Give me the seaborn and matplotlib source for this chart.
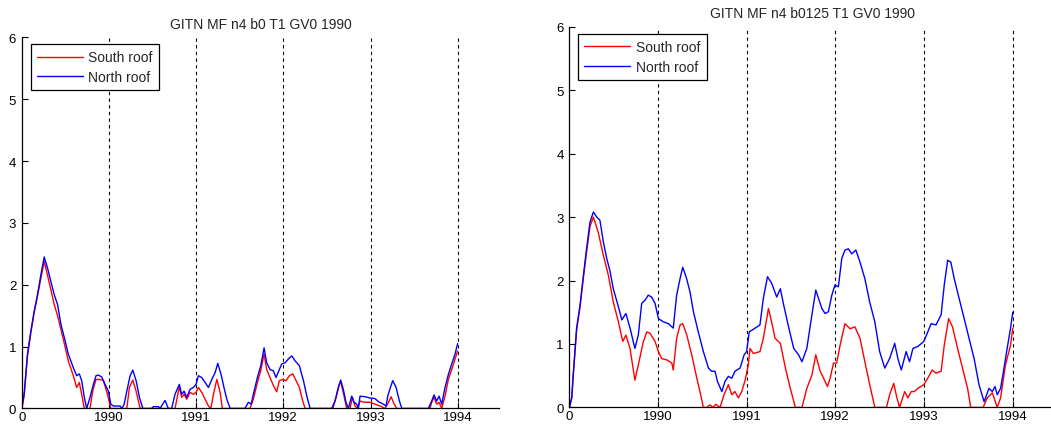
import numpy as np
import pandas as pd
import matplotlib
matplotlib.use('Agg')
import matplotlib.pyplot as plt
import seaborn as sns

# time axis is days since start of 1989, limits 0..2000
year_ticks = [0, 365, 730, 1095, 1461, 1826]
year_labels = ['0', '1990', '1991', '1992', '1993', '1994']

# left panel: b0
left_north_days = [0, 10, 24, 38, 52, 66, 80, 94, 108, 122, 136, 150, 164, 178, 195, 216, 230, 241,
                   251, 262, 272, 286, 300, 311, 321, 335, 349, 363, 373, 384, 412, 419, 429, 440,
                   454, 465, 479, 493, 507, 544, 551, 572, 579, 600, 614, 628, 642, 660, 670, 680,
                   691, 705, 719, 730, 740, 754, 768, 782, 796, 810, 821, 835, 847, 859, 873, 935,
                   949, 961, 970, 987, 1001, 1015, 1026, 1040, 1054, 1065, 1079, 1089, 1103, 1117,
                   1131, 1145, 1163, 1180, 1194, 1208, 1298, 1312, 1326, 1336, 1347, 1358, 1368,
                   1382, 1392, 1403, 1410, 1417, 1438, 1459, 1480, 1494, 1515, 1526, 1533, 1545,
                   1554, 1568, 1582, 1592, 1703, 1717, 1727, 1738, 1748, 1759, 1773, 1787, 1801,
                   1815, 1826]
left_north = [0, 0.24, 0.88, 1.25, 1.57, 1.84, 2.16, 2.45, 2.27, 2.05, 1.84, 1.68, 1.36, 1.15, 0.88,
              0.66, 0.53, 0.56, 0.45, 0.18, 0, 0.18, 0.39, 0.53, 0.54, 0.51, 0.39, 0.28, 0.07, 0.04,
              0.04, 0, 0.07, 0.28, 0.53, 0.62, 0.45, 0.18, 0, 0, 0.03, 0.03, 0, 0.13, 0, 0, 0.23,
              0.39, 0.23, 0.28, 0.18, 0.31, 0.34, 0.39, 0.53, 0.5, 0.42, 0.34, 0.47, 0.58, 0.73,
              0.55, 0.34, 0.15, 0, 0, 0.1, 0.07, 0.23, 0.5, 0.69, 0.98, 0.74, 0.63, 0.61, 0.5, 0.63,
              0.72, 0.74, 0.8, 0.85, 0.77, 0.69, 0.45, 0.2, 0, 0, 0.12, 0.34, 0.46, 0.31, 0.1, 0,
              0.2, 0.1, 0.07, 0, 0.2, 0.19, 0.17, 0.16, 0.11, 0.07, 0.04, 0.2, 0.35, 0.45, 0.34,
              0.12, 0, 0, 0.12, 0.22, 0.12, 0.2, 0.07, 0.34, 0.55, 0.72, 0.88, 1.05]

left_south_days = [0, 10, 24, 38, 52, 66, 80, 94, 108, 122, 136, 150, 164, 174, 195, 216, 230, 241,
                   251, 262, 286, 297, 311, 328, 342, 359, 373, 440, 451, 465, 479, 496, 642, 660,
                   670, 680, 691, 705, 719, 730, 740, 754, 768, 782, 792, 803, 817, 831, 840, 956,
                   970, 987, 1001, 1015, 1026, 1040, 1054, 1068, 1079, 1093, 1107, 1121, 1135, 1149,
                   1163, 1177, 1187, 1303, 1317, 1330, 1337, 1350, 1361, 1375, 1385, 1396, 1406,
                   1417, 1438, 1459, 1480, 1501, 1522, 1536, 1547, 1560, 1571, 1710, 1717, 1727,
                   1738, 1748, 1759, 1773, 1787, 1801, 1815, 1826]
left_south = [0, 0.2, 0.85, 1.22, 1.55, 1.82, 2.1, 2.38, 2.15, 1.92, 1.68, 1.5, 1.28, 1.12, 0.77,
              0.53, 0.34, 0.42, 0.23, 0, 0, 0.28, 0.47, 0.47, 0.45, 0.23, 0, 0, 0.34, 0.46, 0.28, 0,
              0, 0.35, 0.18, 0.23, 0.15, 0.26, 0.23, 0.26, 0.34, 0.26, 0.15, 0.04, 0, 0.23, 0.47,
              0.26, 0, 0, 0.15, 0.42, 0.61, 0.88, 0.63, 0.5, 0.37, 0.27, 0.45, 0.47, 0.45, 0.53,
              0.56, 0.45, 0.34, 0.12, 0, 0, 0.18, 0.39, 0.42, 0.2, 0, 0, 0.18, 0.04, 0, 0.12, 0.1,
              0.1, 0.07, 0.04, 0, 0.1, 0.19, 0.07, 0, 0, 0.1, 0.18, 0.07, 0.1, 0, 0.2, 0.47, 0.63,
              0.8, 0.93]

# right panel: b0125
right_north_days = [0, 10, 16, 30, 44, 58, 71, 85, 99, 113, 126, 140, 154, 168, 181, 202, 216, 233,
                    250, 270, 284, 298, 312, 325, 339, 353, 367, 387, 408, 428, 442, 456, 467, 483,
                    497, 511, 531, 552, 573, 586, 600, 610, 628, 641, 655, 669, 682, 703, 720, 730,
                    741, 765, 785, 799, 816, 833, 854, 869, 883, 904, 924, 944, 958, 978, 999, 1015,
                    1026, 1040, 1053, 1067, 1081, 1094, 1108, 1122, 1135, 1149, 1163, 1180, 1197,
                    1217, 1237, 1258, 1278, 1299, 1319, 1340, 1353, 1367, 1387, 1401, 1415, 1435,
                    1460, 1476, 1490, 1510, 1531, 1544, 1558, 1571, 1585, 1605, 1626, 1646, 1667,
                    1687, 1708, 1728, 1742, 1753, 1762, 1776, 1790, 1803, 1817, 1826]
right_north = [0, 0.15, 0.51, 1.25, 1.61, 2.08, 2.5, 2.92, 3.08, 3.0, 2.95, 2.61, 2.35, 2.14, 1.87,
               1.59, 1.38, 1.48, 1.25, 0.93, 1.14, 1.64, 1.69, 1.77, 1.74, 1.64, 1.4, 1.35, 1.32,
               1.25, 1.77, 2.03, 2.21, 2.03, 1.82, 1.51, 1.19, 0.88, 0.62, 0.57, 0.57, 0.41, 0.25,
               0.41, 0.49, 0.46, 0.57, 0.62, 0.83, 0.88, 1.19, 1.25, 1.3, 1.72, 2.06, 1.96, 1.74,
               1.87, 1.61, 1.25, 0.93, 0.83, 0.72, 0.93, 1.46, 1.85, 1.72, 1.56, 1.48, 1.51, 1.77,
               1.93, 1.9, 2.35, 2.48, 2.5, 2.42, 2.48, 2.29, 2.03, 1.66, 1.35, 0.88, 0.62, 0.77,
               1.01, 0.77, 0.59, 0.88, 0.72, 0.93, 0.96, 1.04, 1.19, 1.32, 1.3, 1.46, 1.93, 2.32,
               2.29, 2.03, 1.72, 1.4, 1.09, 0.77, 0.36, 0.09, 0.3, 0.25, 0.33, 0.2, 0.3, 0.62, 0.93,
               1.25, 1.5]

right_south_days = [0, 10, 16, 30, 44, 58, 71, 85, 99, 119, 140, 161, 181, 202, 220, 233, 250, 270,
                    284, 305, 319, 332, 353, 367, 380, 401, 422, 428, 442, 456, 467, 483, 504, 525,
                    538, 552, 566, 579, 593, 603, 621, 637, 655, 669, 682, 696, 710, 724, 737, 744,
                    758, 785, 799, 820, 833, 847, 869, 890, 910, 931, 958, 978, 999, 1015, 1033,
                    1047, 1063, 1074, 1088, 1101, 1115, 1135, 1156, 1176, 1197, 1217, 1237, 1258,
                    1306, 1319, 1336, 1349, 1360, 1381, 1394, 1408, 1421, 1435, 1460, 1476, 1494,
                    1510, 1531, 1544, 1562, 1578, 1599, 1619, 1640, 1653, 1704, 1721, 1742, 1762,
                    1776, 1796, 1817, 1826]
right_south = [0, 0.15, 0.5, 1.22, 1.58, 2.05, 2.45, 2.85, 3.0, 2.76, 2.4, 2.08, 1.66, 1.35, 1.04,
               1.14, 0.93, 0.43, 0.67, 1.04, 1.19, 1.17, 1.04, 0.88, 0.77, 0.75, 0.7, 0.59, 1.09,
               1.3, 1.32, 1.15, 0.83, 0.46, 0.25, 0, 0, 0.04, 0, 0.05, 0, 0.2, 0.36, 0.2, 0.25, 0.15,
               0.25, 0.43, 0.67, 0.93, 0.85, 0.88, 1.09, 1.56, 1.35, 1.09, 1.01, 0.62, 0.3, 0, 0,
               0.3, 0.51, 0.83, 0.57, 0.46, 0.33, 0.46, 0.7, 0.7, 0.98, 1.32, 1.24, 1.27, 1.09, 0.72,
               0.36, 0, 0, 0.2, 0.38, 0.15, 0, 0.25, 0.15, 0.25, 0.25, 0.3, 0.36, 0.46, 0.59, 0.54,
               0.57, 0.98, 1.4, 1.27, 0.93, 0.62, 0.3, 0, 0, 0.15, 0.23, 0, 0.15, 0.67, 0.98, 1.25]

sns.set_style('ticks')
plt.rcParams['font.family'] = ['Liberation Sans', 'DejaVu Sans']

fig = plt.figure(figsize=(10.51, 4.27), dpi=100)
ax1 = fig.add_axes([0.0207, 0.0410, 0.4543, 0.8693])
ax2 = fig.add_axes([0.5417, 0.0435, 0.4621, 0.8915])

panels = [
    (ax1, 'GITN MF n4 b0 T1 GV0 1990', left_south_days, left_south, left_north_days, left_north),
    (ax2, 'GITN MF n4 b0125 T1 GV0 1990', right_south_days, right_south, right_north_days, right_north),
]

for ax, title, sd, sv, nd, nv in panels:
    sns.lineplot(x=sd, y=sv, color='red', linewidth=1, label='South roof', estimator=None, ax=ax)
    sns.lineplot(x=nd, y=nv, color='blue', linewidth=1, label='North roof', estimator=None, ax=ax)
    for t in year_ticks[1:]:
        ax.axvline(t, color='black', linestyle=(0, (3, 3)), linewidth=0.8, zorder=0)
    ax.set_xlim(0, 2000)
    ax.set_ylim(0, 6)
    ax.set_xticks(year_ticks)
    ax.set_xticklabels(year_labels)
    ax.set_yticks(range(7))
    ax.tick_params(direction='in', length=4, width=0.8, labelsize=9.5, colors='black')
    ax.tick_params(axis='x', pad=1.5)
    ax.tick_params(axis='y', pad=4)
    ax.set_title(title, fontsize=10, pad=7)
    for side in ['top', 'right']:
        ax.spines[side].set_visible(False)
    for side in ['left', 'bottom']:
        ax.spines[side].set_color('black')
        ax.spines[side].set_linewidth(0.9)
    leg = ax.legend(loc='upper left', bbox_to_anchor=(0.004, 1.0), fontsize=10, fancybox=False,
                    framealpha=1, edgecolor='black', handlelength=3.3, borderpad=0.45,
                    labelspacing=0.4, handletextpad=0.4)
    leg.get_frame().set_linewidth(0.9)

plt.savefig('out.png', dpi=100)
plt.close()
